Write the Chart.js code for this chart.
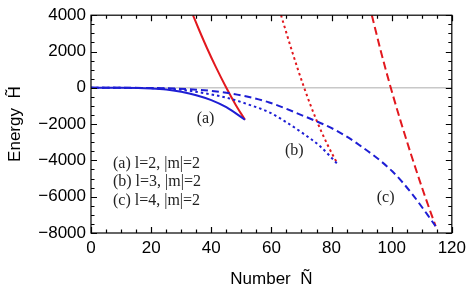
<!DOCTYPE html>
<html>
<head>
<meta charset="utf-8">
<script src="https://cdn.jsdelivr.net/npm/chart.js@4"></script>
<style>
  body { margin: 0; background: #fff; }
  canvas { display: block; }
</style>
</head>
<body>
<canvas id="energyChart" width="471" height="293"></canvas>
<script>
// Curve (a): l=2, |m|=2
const aRedN = [33.9, 36.1, 38.6, 41.5, 45.0, 48.0, 51.2];
const aRedE = [4000, 3130, 2180, 1150, 0, -900, -1760];
const aBlueN = [0, 10, 20, 25, 30, 35, 40, 45, 51.2];
const aBlueE = [0, -3, -35, -90, -220, -410, -680, -1070, -1760];

// Curve (b): l=3, |m|=2
const bRedN = [63.2, 67.1, 70.9, 74.8, 78.7, 82.0];
const bRedE = [4000, 1890, 0, -1710, -3150, -4200];
const bBlueN = [0, 20, 30, 36, 45, 52, 59.3, 64.9, 70.4, 75.9, 82.0];
const bBlueE = [0, -20, -110, -250, -540, -900, -1350, -1890, -2500, -3180, -4200];

// Curve (c): l=4, |m|=2
const cRedN = [93.4, 96.5, 99.7, 103.0, 106.5, 110.5, 114.6];
const cRedE = [4000, 1950, 0, -1850, -3700, -5700, -7620];
const cBlueN = [0, 20, 32.8, 40, 50, 59.3, 70.4, 81.4, 89.2, 100.2, 106.8, 114.6];
const cBlueE = [0, -8, -80, -170, -420, -810, -1530, -2340, -3150, -4600, -5850, -7620];

// Axis ticks
const xTicks = [0, 20, 40, 60, 80, 100, 120];
const yTicks = [-8000, -6000, -4000, -2000, 0, 2000, 4000];
const xMinorStep = 5;
const yMinorStep = 500;

// Text inside the plot
const curveNames = ['(a)', '(b)', '(c)'];
const legendLines = ['(a) l=2, |m|=2', '(b) l=3, |m|=2', '(c) l=4, |m|=2'];

const red = 'rgb(226,24,30)';
const blue = 'rgb(30,30,212)';

function pts(xs, ys) {
  return xs.map((v, i) => ({ x: v, y: ys[i] }));
}

function line(xs, ys, color, dash) {
  return {
    data: pts(xs, ys),
    showLine: true,
    borderColor: color,
    borderWidth: 2,
    borderDash: dash,
    pointRadius: 0,
    cubicInterpolationMode: 'monotone',
    fill: false
  };
}

function fmt(v) {
  return v < 0 ? '\u2212' + Math.abs(v) : String(v);
}

// Frame with inward ticks, curve labels and the key text
const framePlugin = {
  id: 'frame',
  afterDatasetsDraw(chart) {
    const { ctx, chartArea: a, scales: { x, y } } = chart;
    ctx.save();
    ctx.strokeStyle = '#000';
    ctx.lineWidth = 1.2;
    ctx.strokeRect(a.left, a.top, a.right - a.left, a.bottom - a.top);
    ctx.beginPath();
    for (let v = x.min; v <= x.max; v += xMinorStep) {
      const px = Math.round(x.getPixelForValue(v)) + 0.5;
      const len = xTicks.includes(v) ? 6 : 3.5;
      ctx.moveTo(px, a.bottom); ctx.lineTo(px, a.bottom - len);
      ctx.moveTo(px, a.top); ctx.lineTo(px, a.top + len);
    }
    for (let v = y.min; v <= y.max; v += yMinorStep) {
      const py = Math.round(y.getPixelForValue(v)) + 0.5;
      const len = yTicks.includes(v) ? 6 : 3.5;
      ctx.moveTo(a.left, py); ctx.lineTo(a.left + len, py);
      ctx.moveTo(a.right, py); ctx.lineTo(a.right - len, py);
    }
    ctx.stroke();

    ctx.fillStyle = '#222';
    ctx.font = '16px "Liberation Serif"';
    ctx.textBaseline = 'middle';
    ctx.textAlign = 'center';
    const namePos = [[38.1, -1700], [67.6, -3460], [98.0, -6080]];
    curveNames.forEach((t, i) => {
      ctx.fillText(t, x.getPixelForValue(namePos[i][0]), y.getPixelForValue(namePos[i][1]));
    });
    ctx.textAlign = 'left';
    legendLines.forEach((t, i) => {
      ctx.fillText(t, x.getPixelForValue(7.3), y.getPixelForValue(-4160 - i * 1027));
    });
    ctx.restore();
  }
};

const ctx = document.getElementById('energyChart').getContext('2d');
const energyChart = new Chart(ctx, {
  type: 'scatter',
  data: {
    datasets: [
      line(aBlueN, aBlueE, blue, []),
      line(bBlueN, bBlueE, blue, [2.5, 3]),
      line(cBlueN, cBlueE, blue, [7, 4]),
      line(aRedN, aRedE, red, []),
      line(bRedN, bRedE, red, [2.5, 3]),
      line(cRedN, cRedE, red, [8, 4])
    ]
  },
  options: {
    responsive: false,
    animation: false,
    layout: { padding: { left: 0, right: 18, top: 11, bottom: 0 } },
    plugins: { legend: { display: false }, tooltip: { enabled: false } },
    scales: {
      x: {
        type: 'linear',
        min: 0,
        max: 120,
        afterBuildTicks: s => { s.ticks = xTicks.map(v => ({ value: v })); },
        afterFit: s => { s.height = 60; },
        ticks: { padding: 5, color: '#000', font: { family: '"Liberation Sans"', size: 17 }, maxRotation: 0, callback: fmt },
        grid: { display: false, drawTicks: false },
        border: { display: false },
        title: { display: true, text: 'Number  \u00d1', color: '#000', font: { family: '"Liberation Sans"', size: 17 }, padding: { bottom: 3 } }
      },
      y: {
        type: 'linear',
        min: -8000,
        max: 4000,
        afterBuildTicks: s => { s.ticks = yTicks.map(v => ({ value: v })); },
        afterFit: s => { s.width = 91; },
        ticks: { padding: 5, color: '#000', font: { family: '"Liberation Sans"', size: 17 }, callback: fmt },
        grid: {
          drawTicks: false,
          lineWidth: 1.5,
          color: c => (c.tick && c.tick.value === 0 ? '#c8c8c8' : 'rgba(0,0,0,0)')
        },
        border: { display: false },
        title: { display: true, text: 'Energy  H\u0303', color: '#000', font: { family: '"Liberation Sans"', size: 17 }, padding: { top: 5 } }
      }
    }
  },
  plugins: [framePlugin]
});
</script>
</body>
</html>
